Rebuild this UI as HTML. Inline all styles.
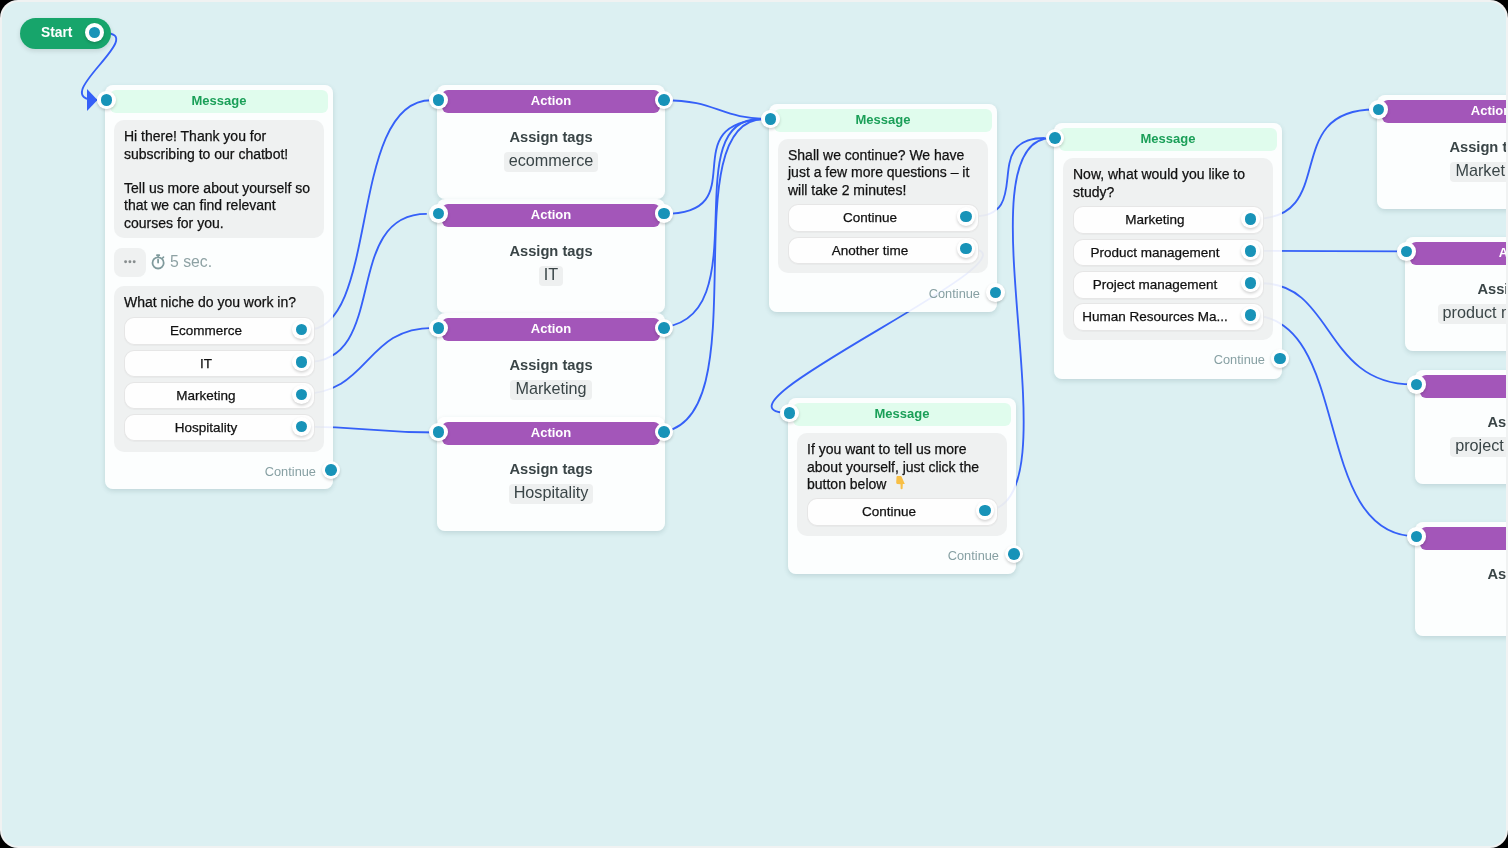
<!DOCTYPE html><html><head><meta charset="utf-8"><style>

*{box-sizing:border-box;margin:0;padding:0}
html,body{width:1508px;height:848px;overflow:hidden;background:#000}
body{font-family:"Liberation Sans", sans-serif;position:relative}
#frame{position:absolute;left:0;top:0;width:1508px;height:848px;border-radius:18px;background:#f0f2f2;overflow:hidden}
#canvas{position:absolute;left:2px;top:2px;width:1504px;height:844px;border-radius:16px;background:#dcf0f2;overflow:hidden}
#world{position:absolute;will-change:transform;left:-2px;top:-2px;width:1508px;height:848px}
svg.edges{position:absolute;left:0;top:0;width:1508px;height:848px}
.card{position:absolute;will-change:transform;width:228px;background:rgba(255,255,255,0.9);border-radius:8px;box-shadow:0 2px 5px rgba(40,80,90,0.16)}
.hdr{position:absolute;left:5px;top:5px;width:218px;height:22.5px;border-radius:6px;text-align:center;font-weight:bold;font-size:13px;line-height:22.5px}
.msg .hdr{background:#e0fced;color:#1a9f58}
.act .hdr{background:#a356b9;color:#fff}
.bub{position:absolute;left:9px;width:210px;background:rgba(225,228,228,0.5);border-radius:10px}
.txt{position:absolute;left:10px;font-size:14px;line-height:17.25px;color:#111;-webkit-text-stroke:0.25px #111}
.btn{position:absolute;left:9.5px;width:191px;height:27.5px;margin-top:-0.6px;background:rgba(255,255,255,0.92);border-radius:10px;border:1px solid rgba(0,0,0,0.095);box-shadow:0 1px 1px rgba(0,0,0,0.03);font-size:13.5px;color:#111;-webkit-text-stroke:0.25px #111;line-height:25px;text-align:center;padding-right:26px}
.cont{position:absolute;right:17px;font-size:12.8px;color:#87a0a3}
.ring{position:absolute;border-radius:50%;background:#fff;box-shadow:0 1.5px 3px rgba(0,0,0,0.18)}
.blue{position:absolute;border-radius:50%;background:#1893b8}
.title{position:absolute;left:0;width:228px;text-align:center;font-weight:bold;font-size:14.7px;color:#3a4547}
.tagw{position:absolute;left:0;width:228px;text-align:center}
.tag{display:inline-block;height:20px;line-height:17.4px;padding:0 5px;background:#eef0f0;border-radius:4px;font-size:16.2px;color:#3a4547}

</style></head><body><div id="frame"><div id="canvas"><div id="world">
<svg class="edges" viewBox="0 0 1508 848">
<path d="M104.0,33.0 C151.0,33.0 44.0,100.0 97.0,100.0" fill="none" stroke="#3560f8" stroke-width="1.85"/>
<path d="M307.5,329.7 C380.3,329.7 347.4,100.2 431.2,100.2" fill="none" stroke="#3560f8" stroke-width="1.85"/>
<path d="M307.1,362.0 C390.1,362.0 340.8,213.9 426.8,213.9" fill="none" stroke="#3560f8" stroke-width="1.85"/>
<path d="M299.4,394.3 C371.1,394.3 363.3,327.8 433.1,327.8" fill="none" stroke="#3560f8" stroke-width="1.85"/>
<path d="M301.6,426.6 C369.6,426.6 370.4,432.5 438.4,432.5" fill="none" stroke="#3560f8" stroke-width="1.85"/>
<path d="M664.2,100.2 C718.2,100.2 718.5,119.0 770.5,119.0" fill="none" stroke="#3560f8" stroke-width="1.85"/>
<path d="M664.2,213.9 C758.2,213.9 667.5,119.0 770.5,119.0" fill="none" stroke="#3560f8" stroke-width="1.85"/>
<path d="M655.0,327.8 C763.5,327.8 672.9,119.0 759.4,119.0" fill="none" stroke="#3560f8" stroke-width="1.85"/>
<path d="M655.3,432.5 C764.8,432.5 667.8,119.0 764.4,119.0" fill="none" stroke="#3560f8" stroke-width="1.85"/>
<path d="M973.0,216.4 C1035.3,216.4 978.9,138.0 1044.7,138.0" fill="none" stroke="#3560f8" stroke-width="1.85"/>
<path d="M966.0,248.5 C1066.0,248.5 686.5,413.0 789.5,413.0" fill="none" stroke="#3560f8" stroke-width="1.85"/>
<path d="M984.8,510.5 C1081.4,510.5 955.2,138.0 1051.5,138.0" fill="none" stroke="#3560f8" stroke-width="1.85"/>
<path d="M1255.0,218.8 C1339.6,218.8 1279.5,109.5 1374.7,109.5" fill="none" stroke="#3560f8" stroke-width="1.85"/>
<path d="M1250.3,250.8 C1328.3,250.8 1328.2,251.4 1406.2,251.4" fill="none" stroke="#3560f8" stroke-width="1.85"/>
<path d="M1261.4,283.2 C1333.6,283.2 1323.8,384.4 1412.3,384.4" fill="none" stroke="#3560f8" stroke-width="1.85"/>
<path d="M1249.1,315.0 C1354.1,315.0 1309.4,536.4 1416.6,536.4" fill="none" stroke="#3560f8" stroke-width="1.85"/>
<polygon points="87,89 97.5,100 87,111" fill="#3560f8"/>
</svg>
<div style="position:absolute;left:20px;top:18.4px;width:91px;height:30.5px;border-radius:16px;background:#17a56b;box-shadow:0 2px 5px rgba(0,0,0,0.12)"></div>
<div style="position:absolute;left:41px;top:18.4px;height:30.5px;line-height:30.5px;font-size:13.8px;font-weight:bold;color:#fff">Start</div>
<div class="ring" style="left:85.2px;top:23.2px;width:19.0px;height:19.0px"><div class="blue" style="left:3.7px;top:3.7px;width:11.6px;height:11.6px"></div></div>
<div class="card msg" style="left:105px;top:85px;height:404.3px"><div class="hdr">Message</div><div class="bub" style="top:35.0px;height:118.2px"><div class="txt" style="top:8.3px">Hi there! Thank you for<br>subscribing to our chatbot!<br><br>Tell us more about yourself so<br>that we can find relevant<br>courses for you.</div></div><div style="position:absolute;left:9px;top:163px;width:32px;height:29px;border-radius:8px;background:rgba(225,228,228,0.5)"><svg width="32" height="29" style="position:absolute;left:0;top:0"><circle cx="11.6" cy="13.8" r="1.45" fill="#878d8e"/><circle cx="15.9" cy="13.8" r="1.45" fill="#878d8e"/><circle cx="20.2" cy="13.8" r="1.45" fill="#878d8e"/></svg></div><svg width="16" height="17" style="position:absolute;left:45px;top:167.5px" viewBox="0 0 16 17"><circle cx="8.1" cy="9.9" r="5.6" fill="none" stroke="#7f9a9c" stroke-width="1.8"/><line x1="8.1" y1="6.6" x2="8.1" y2="9.6" stroke="#7f9a9c" stroke-width="1.8" stroke-linecap="round"/><line x1="6.9" y1="2.2" x2="9.3" y2="2.2" stroke="#7f9a9c" stroke-width="1.7" stroke-linecap="round"/><line x1="8.1" y1="2.2" x2="8.1" y2="4" stroke="#7f9a9c" stroke-width="1.6"/><line x1="12.6" y1="5" x2="13.5" y2="4.1" stroke="#7f9a9c" stroke-width="1.6" stroke-linecap="round"/></svg><div style="position:absolute;left:65px;top:168px;font-size:15.8px;line-height:18px;color:#8ea2a4">5 sec.</div><div class="bub" style="top:201.4px;height:165.2px"><div class="txt" style="top:8.0px">What niche do you work in?</div><div class="btn" style="top:31.4px">Ecommerce</div><div class="btn" style="top:63.9px">IT</div><div class="btn" style="top:96.0px">Marketing</div><div class="btn" style="top:128.2px">Hospitality</div></div><div class="cont" style="top:379.1px;height:16px;line-height:16px">Continue</div></div>
<div class="card msg" style="left:769.3px;top:104px;height:207.8px"><div class="hdr">Message</div><div class="bub" style="top:34.8px;height:134.7px"><div class="txt" style="top:8.3px">Shall we continue? We have<br>just a few more questions – it<br>will take 2 minutes!</div><div class="btn" style="top:66.2px">Continue</div><div class="btn" style="top:98.7px">Another time</div></div><div class="cont" style="top:181.8px;height:16px;line-height:16px">Continue</div></div>
<div class="card msg" style="left:788.3px;top:398px;height:175.7px"><div class="hdr">Message</div><div class="bub" style="top:35.0px;height:102.8px"><div class="txt" style="top:8.3px">If you want to tell us more<br>about yourself, just click the<br>button below</div><div class="btn" style="top:65.8px">Continue</div></div><svg width="10" height="14" viewBox="0 0 10 14" style="position:absolute;left:108.2px;top:78px"><path d="M0.5,1 Q0.5,0 1.5,0 L4.5,0 Q5.4,0 5.8,1.2 L8.8,7.9 L6.8,7.9 L6.6,12.6 Q6.5,13.3 5.6,13.3 Q4.7,13.3 4.6,12.6 L4.5,8.3 L1.2,7.9 Q0.2,7.6 0.2,6.5 Z" fill="#f8bf45"/></svg><div class="cont" style="top:149.6px;height:16px;line-height:16px">Continue</div></div>
<div class="card msg" style="left:1054px;top:123px;height:255.7px"><div class="hdr">Message</div><div class="bub" style="top:35.0px;height:182.2px"><div class="txt" style="top:8.3px">Now, what would you like to<br>study?</div><div class="btn" style="top:49.0px">Marketing</div><div class="btn" style="top:81.3px">Product management</div><div class="btn" style="top:113.6px">Project management</div><div class="btn" style="top:145.9px">Human Resources Ma...</div></div><div class="cont" style="top:229.0px;height:16px;line-height:16px">Continue</div></div>
<div class="card act" style="left:437px;top:85.2px;height:113.8px"><div class="hdr">Action</div><div class="title" style="top:43.5px;line-height:17px">Assign tags</div><div class="tagw" style="top:66.5px"><span class="tag">ecommerce</span></div></div><div class="ring" style="left:429.1px;top:90.9px;width:18.6px;height:18.6px"><div class="blue" style="left:3.5px;top:3.5px;width:11.6px;height:11.6px"></div></div><div class="ring" style="left:654.9px;top:90.9px;width:18.6px;height:18.6px"><div class="blue" style="left:3.5px;top:3.5px;width:11.6px;height:11.6px"></div></div>
<div class="card act" style="left:437px;top:198.6px;height:113.8px"><div class="hdr">Action</div><div class="title" style="top:43.5px;line-height:17px">Assign tags</div><div class="tagw" style="top:66.5px"><span class="tag">IT</span></div></div><div class="ring" style="left:429.1px;top:204.3px;width:18.6px;height:18.6px"><div class="blue" style="left:3.5px;top:3.5px;width:11.6px;height:11.6px"></div></div><div class="ring" style="left:654.9px;top:204.3px;width:18.6px;height:18.6px"><div class="blue" style="left:3.5px;top:3.5px;width:11.6px;height:11.6px"></div></div>
<div class="card act" style="left:437px;top:312.8px;height:113.8px"><div class="hdr">Action</div><div class="title" style="top:43.5px;line-height:17px">Assign tags</div><div class="tagw" style="top:66.5px"><span class="tag">Marketing</span></div></div><div class="ring" style="left:429.1px;top:318.5px;width:18.6px;height:18.6px"><div class="blue" style="left:3.5px;top:3.5px;width:11.6px;height:11.6px"></div></div><div class="ring" style="left:654.9px;top:318.5px;width:18.6px;height:18.6px"><div class="blue" style="left:3.5px;top:3.5px;width:11.6px;height:11.6px"></div></div>
<div class="card act" style="left:437px;top:417.2px;height:113.8px"><div class="hdr">Action</div><div class="title" style="top:43.5px;line-height:17px">Assign tags</div><div class="tagw" style="top:66.5px"><span class="tag">Hospitality</span></div></div><div class="ring" style="left:429.1px;top:422.9px;width:18.6px;height:18.6px"><div class="blue" style="left:3.5px;top:3.5px;width:11.6px;height:11.6px"></div></div><div class="ring" style="left:654.9px;top:422.9px;width:18.6px;height:18.6px"><div class="blue" style="left:3.5px;top:3.5px;width:11.6px;height:11.6px"></div></div>
<div class="card act" style="left:1376.9px;top:94.5px;height:113.8px"><div class="hdr">Action</div><div class="title" style="top:43.5px;line-height:17px">Assign tags</div><div class="tagw" style="top:66.5px"><span class="tag">Marketing</span></div></div><div class="ring" style="left:1369.0px;top:100.2px;width:18.6px;height:18.6px"><div class="blue" style="left:3.5px;top:3.5px;width:11.6px;height:11.6px"></div></div><div class="ring" style="left:1594.8px;top:100.2px;width:18.6px;height:18.6px"><div class="blue" style="left:3.5px;top:3.5px;width:11.6px;height:11.6px"></div></div>
<div class="card act" style="left:1405.2px;top:236.6px;height:113.8px"><div class="hdr">Action</div><div class="title" style="top:43.5px;line-height:17px">Assign tags</div><div class="tagw" style="top:66.5px"><span class="tag">product management</span></div></div><div class="ring" style="left:1397.3px;top:242.3px;width:18.6px;height:18.6px"><div class="blue" style="left:3.5px;top:3.5px;width:11.6px;height:11.6px"></div></div><div class="ring" style="left:1623.1px;top:242.3px;width:18.6px;height:18.6px"><div class="blue" style="left:3.5px;top:3.5px;width:11.6px;height:11.6px"></div></div>
<div class="card act" style="left:1415.1px;top:369.6px;height:113.8px"><div class="hdr">Action</div><div class="title" style="top:43.5px;line-height:17px">Assign tags</div><div class="tagw" style="top:66.5px"><span class="tag">project management</span></div></div><div class="ring" style="left:1407.2px;top:375.3px;width:18.6px;height:18.6px"><div class="blue" style="left:3.5px;top:3.5px;width:11.6px;height:11.6px"></div></div><div class="ring" style="left:1633.0px;top:375.3px;width:18.6px;height:18.6px"><div class="blue" style="left:3.5px;top:3.5px;width:11.6px;height:11.6px"></div></div>
<div class="card act" style="left:1415.1px;top:521.6px;height:113.8px"><div class="hdr">Action</div><div class="title" style="top:43.5px;line-height:17px">Assign tags</div></div><div class="ring" style="left:1407.2px;top:527.3px;width:18.6px;height:18.6px"><div class="blue" style="left:3.5px;top:3.5px;width:11.6px;height:11.6px"></div></div><div class="ring" style="left:1633.0px;top:527.3px;width:18.6px;height:18.6px"><div class="blue" style="left:3.5px;top:3.5px;width:11.6px;height:11.6px"></div></div>
<div class="ring" style="left:97.0px;top:90.7px;width:18.6px;height:18.6px"><div class="blue" style="left:3.5px;top:3.5px;width:11.6px;height:11.6px"></div></div>
<div class="ring" style="left:321.9px;top:460.5px;width:18.6px;height:18.6px"><div class="blue" style="left:3.5px;top:3.5px;width:11.6px;height:11.6px"></div></div>
<div class="ring" style="left:292.3px;top:320.4px;width:18.6px;height:18.6px"><div class="blue" style="left:3.5px;top:3.5px;width:11.6px;height:11.6px"></div></div>
<div class="ring" style="left:292.3px;top:352.7px;width:18.6px;height:18.6px"><div class="blue" style="left:3.5px;top:3.5px;width:11.6px;height:11.6px"></div></div>
<div class="ring" style="left:292.3px;top:385.0px;width:18.6px;height:18.6px"><div class="blue" style="left:3.5px;top:3.5px;width:11.6px;height:11.6px"></div></div>
<div class="ring" style="left:292.3px;top:417.3px;width:18.6px;height:18.6px"><div class="blue" style="left:3.5px;top:3.5px;width:11.6px;height:11.6px"></div></div>
<div class="ring" style="left:761.2px;top:109.7px;width:18.6px;height:18.6px"><div class="blue" style="left:3.5px;top:3.5px;width:11.6px;height:11.6px"></div></div>
<div class="ring" style="left:956.7px;top:207.1px;width:18.6px;height:18.6px"><div class="blue" style="left:3.5px;top:3.5px;width:11.6px;height:11.6px"></div></div>
<div class="ring" style="left:956.7px;top:239.2px;width:18.6px;height:18.6px"><div class="blue" style="left:3.5px;top:3.5px;width:11.6px;height:11.6px"></div></div>
<div class="ring" style="left:986.0px;top:283.1px;width:18.6px;height:18.6px"><div class="blue" style="left:3.5px;top:3.5px;width:11.6px;height:11.6px"></div></div>
<div class="ring" style="left:780.2px;top:403.7px;width:18.6px;height:18.6px"><div class="blue" style="left:3.5px;top:3.5px;width:11.6px;height:11.6px"></div></div>
<div class="ring" style="left:975.7px;top:501.2px;width:18.6px;height:18.6px"><div class="blue" style="left:3.5px;top:3.5px;width:11.6px;height:11.6px"></div></div>
<div class="ring" style="left:1004.9px;top:544.9px;width:18.6px;height:18.6px"><div class="blue" style="left:3.5px;top:3.5px;width:11.6px;height:11.6px"></div></div>
<div class="ring" style="left:1045.8px;top:128.8px;width:18.6px;height:18.6px"><div class="blue" style="left:3.5px;top:3.5px;width:11.6px;height:11.6px"></div></div>
<div class="ring" style="left:1270.9px;top:349.3px;width:18.6px;height:18.6px"><div class="blue" style="left:3.5px;top:3.5px;width:11.6px;height:11.6px"></div></div>
<div class="ring" style="left:1241.0px;top:209.5px;width:18.6px;height:18.6px"><div class="blue" style="left:3.5px;top:3.5px;width:11.6px;height:11.6px"></div></div>
<div class="ring" style="left:1241.0px;top:241.5px;width:18.6px;height:18.6px"><div class="blue" style="left:3.5px;top:3.5px;width:11.6px;height:11.6px"></div></div>
<div class="ring" style="left:1241.0px;top:273.9px;width:18.6px;height:18.6px"><div class="blue" style="left:3.5px;top:3.5px;width:11.6px;height:11.6px"></div></div>
<div class="ring" style="left:1241.0px;top:305.7px;width:18.6px;height:18.6px"><div class="blue" style="left:3.5px;top:3.5px;width:11.6px;height:11.6px"></div></div>
</div></div></div></body></html>
